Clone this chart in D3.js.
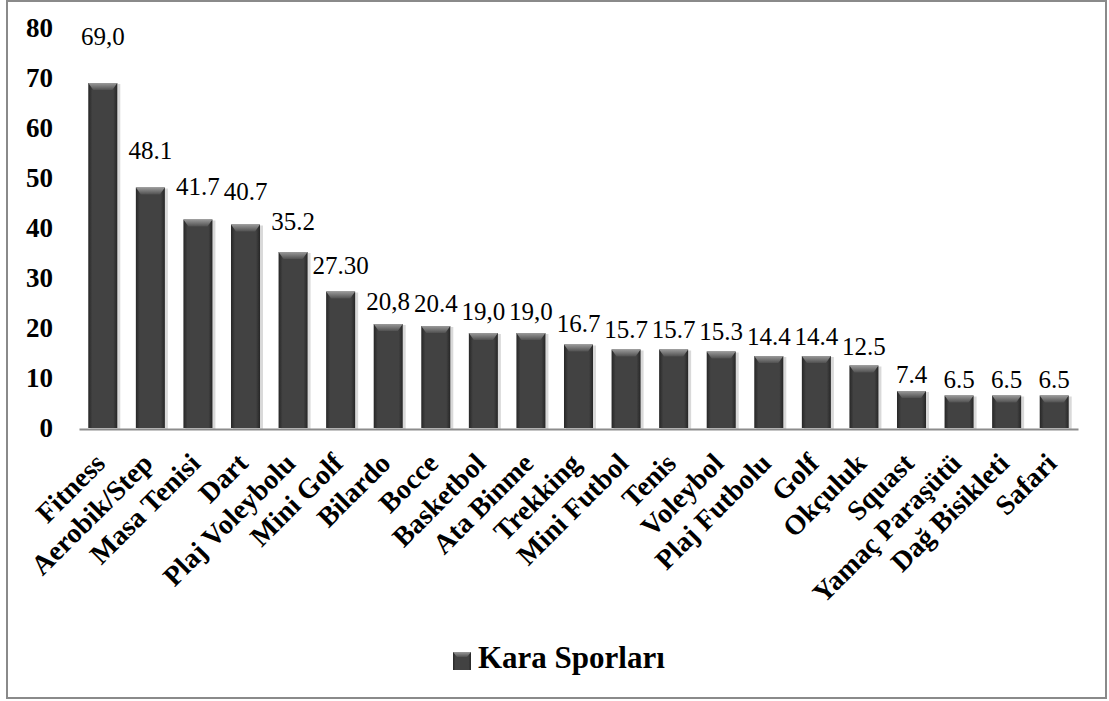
<!DOCTYPE html>
<html>
<head>
<meta charset="utf-8">
<script src="https://cdn.jsdelivr.net/npm/d3@7"></script>
<style>
  body { margin: 0; background: #fff; }
  svg { display: block; }
</style>
</head>
<body>
<div id="chart"></div>
<script>
// data
let categories = ["Fitness", "Aerobik/Step", "Masa Tenisi", "Dart", "Plaj Voleybolu", "Mini Golf",
  "Bilardo", "Bocce", "Basketbol", "Ata Binme", "Trekking", "Mini Futbol", "Tenis", "Voleybol",
  "Plaj Futbolu", "Golf", "Okçuluk", "Squast", "Yamaç Paraşütü", "Dağ Bisikleti", "Safari"];
let values = [69.0, 48.1, 41.7, 40.7, 35.2, 27.3, 20.8, 20.4, 19.0, 19.0, 16.7, 15.7, 15.7, 15.3,
  14.4, 14.4, 12.5, 7.4, 6.5, 6.5, 6.5];
let valueLabels = ["69,0", "48.1", "41.7", "40.7", "35.2", "27.30", "20,8", "20.4", "19,0", "19,0",
  "16.7", "15.7", "15.7", "15.3", "14.4", "14.4", "12.5", "7.4", "6.5", "6.5", "6.5"];
let yTicks = [0, 10, 20, 30, 40, 50, 60, 70, 80];
let seriesName = "Kara Sporları";

let W = 1109, H = 701;
let serif = "Liberation Serif";

let svg = d3.select("#chart").append("svg")
  .attr("width", W)
  .attr("height", H)
  .attr("font-family", serif);

let defs = svg.append("defs");

// body gradient: darker edges, flat middle
let bodyGrad = defs.append("linearGradient").attr("id", "bodyGrad")
  .attr("x1", "0").attr("x2", "1").attr("y1", "0").attr("y2", "0");
bodyGrad.append("stop").attr("offset", "0%").attr("stop-color", "#262626");
bodyGrad.append("stop").attr("offset", "14%").attr("stop-color", "#424242");
bodyGrad.append("stop").attr("offset", "86%").attr("stop-color", "#424242");
bodyGrad.append("stop").attr("offset", "100%").attr("stop-color", "#262626");

// bevel at the top of each bar
let topGrad = defs.append("linearGradient").attr("id", "topGrad")
  .attr("x1", "0").attr("x2", "0").attr("y1", "0").attr("y2", "1");
topGrad.append("stop").attr("offset", "0%").attr("stop-color", "#9a9a9a");
topGrad.append("stop").attr("offset", "100%").attr("stop-color", "#505050");

// outer frame
svg.append("rect")
  .attr("x", 7).attr("y", 1)
  .attr("width", 1099).attr("height", 697)
  .attr("fill", "none")
  .attr("stroke", "#8a8a8a")
  .attr("stroke-width", 2);

let x = d3.scaleBand()
  .domain(categories)
  .range([79, 1078])
  .paddingInner(0.39)
  .paddingOuter(0.195);

let y = d3.scaleLinear()
  .domain([0, 80])
  .range([428, 28]);

// bars
let bars = svg.selectAll(".bar")
  .data(values)
  .enter().append("g")
  .attr("class", "bar");

// soft shadow to the right of each bar
bars.append("rect")
  .attr("x", (d, i) => x(categories[i]) + 2)
  .attr("y", d => y(d) + 1)
  .attr("width", x.bandwidth() + 1)
  .attr("height", d => y(0) - y(d))
  .attr("fill", "#000")
  .attr("opacity", 0.15);

bars.append("rect")
  .attr("x", (d, i) => x(categories[i]))
  .attr("y", d => y(d))
  .attr("width", x.bandwidth())
  .attr("height", d => y(0) - y(d))
  .attr("fill", "url(#bodyGrad)");

bars.append("polygon")
  .attr("points", function(d, i) {
    let x0 = x(categories[i]), x1 = x0 + x.bandwidth(), t = y(d), b = 7;
    return [[x0, t], [x1, t], [x1 - 5, t + b], [x0 + 5, t + b]].join(" ");
  })
  .attr("fill", "url(#topGrad)");

// value labels
svg.selectAll(".vlabel")
  .data(values)
  .enter().append("text")
  .attr("class", "vlabel")
  .attr("x", (d, i) => x(categories[i]) + x.bandwidth() / 2)
  .attr("y", d => y(d * 1.1) - 4)
  .attr("text-anchor", "middle")
  .attr("font-family", serif)
  .attr("font-size", 25)
  .attr("fill", "#000")
  .text((d, i) => valueLabels[i]);

// x axis
let xAxis = svg.append("g")
  .attr("transform", "translate(0,429)")
  .call(d3.axisBottom(x).tickSize(0).tickSizeOuter(0))
  .attr("font-family", serif);

xAxis.select(".domain")
  .attr("stroke", "#8c8c8c")
  .attr("stroke-width", 2);

xAxis.selectAll("text")
  .attr("x", 0)
  .attr("y", 0)
  .attr("dy", "0")
  .attr("transform", "translate(4,36) rotate(-45)")
  .attr("text-anchor", "end")
  .attr("font-family", serif)
  .attr("font-size", 28)
  .attr("font-weight", "bold")
  .attr("fill", "#000");

// y axis
let yAxis = svg.append("g")
  .attr("transform", "translate(60,0)")
  .call(d3.axisLeft(y).tickValues(yTicks).tickSize(0).tickPadding(7))
  .attr("font-family", serif);

yAxis.select(".domain").remove();
yAxis.selectAll("text")
  .attr("font-family", serif)
  .attr("font-size", 27)
  .attr("font-weight", "bold")
  .attr("fill", "#000");

// legend
let legend = svg.append("g").attr("transform", "translate(453,652)");
legend.append("rect")
  .attr("width", 18).attr("height", 18)
  .attr("fill", "url(#bodyGrad)");
legend.append("polygon")
  .attr("points", "0,0 18,0 14,5 4,5")
  .attr("fill", "url(#topGrad)");
legend.append("text")
  .attr("x", 25)
  .attr("y", 16)
  .attr("font-family", serif)
  .attr("font-size", 31)
  .attr("font-weight", "bold")
  .attr("fill", "#000")
  .text(seriesName);
</script>
</body>
</html>
